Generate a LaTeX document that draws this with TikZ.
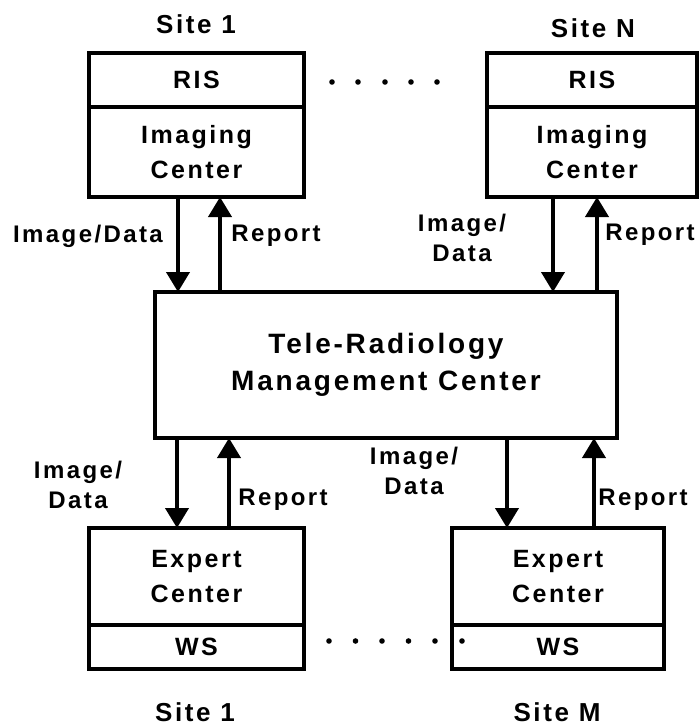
\documentclass[tikz,border=0pt]{standalone}
\usepackage{fontspec}
\usepackage{tikz}
\usetikzlibrary{arrows.meta, positioning}
\newfontfamily\diagfont[LetterSpace=10]{Liberation Sans}

\begin{document}
\begin{tikzpicture}[x=0.5pt, y=-0.5pt,
      font=\diagfont\bfseries\fontsize{12}{15}\selectfont,
      bx/.style={draw, line width=2pt, inner sep=0pt, outer sep=0pt, align=center,
                 font=\diagfont\bfseries\fontsize{12.5}{17.5}\selectfont},
      arr/.style={line width=2pt, -{Triangle[length=10pt, width=11.5pt]}},
      lbl/.style={align=center, inner sep=0pt},
      site/.style={inner sep=0pt, font=\diagfont\bfseries\fontsize{13}{16}\selectfont}]
      \useasboundingbox (0,0) rectangle (699,725);

      % sending sites
      \node[bx, minimum width=107.5pt, minimum height=27pt] (ris1) at (196.5,80) {RIS};
      \node[bx, minimum width=107.5pt, minimum height=45pt, below=0pt of ris1] (ic1) {Imaging\\Center};
      \node[bx, minimum width=105pt, minimum height=27pt] (risN) at (592,80) {RIS};
      \node[bx, minimum width=105pt, minimum height=45pt, below=0pt of risN] (icN) {Imaging\\Center};
      \node[site] (s1) at (196,24) {Site 1};
      \node[site] (sN) at (593,28) {Site N};
      \foreach \x in {332,358,385,411,437} \fill (\x,82) circle (1.4pt);

      % central node
      \node[bx, minimum width=231pt, minimum height=73pt,
            font=\diagfont\bfseries\fontsize{14}{18.5}\selectfont] (rmc) at (386,365)
            {Tele-Radiology\\Management Center};

      % expert sites
      \node[bx, minimum width=107.5pt, minimum height=48.5pt] (ec1) at (196.5,576.5) {Expert\\Center};
      \node[bx, minimum width=107.5pt, minimum height=22pt, below=0pt of ec1] (ws1) {WS};
      \node[bx, minimum width=106pt, minimum height=48.5pt] (ecM) at (558,576.5) {Expert\\Center};
      \node[bx, minimum width=106pt, minimum height=22pt, below=0pt of ecM] (wsM) {WS};
      \node[site] (b1) at (195,712) {Site 1};
      \node[site] (bM) at (557,712) {Site M};
      \foreach \x in {329,355.5,382,408.5,435,462} \fill (\x,641) circle (1.4pt);

      % links up top
      \coordinate (u1) at (178,0);  \coordinate (v1) at (220,0);
      \coordinate (u2) at (553,0);  \coordinate (v2) at (597,0);
      \draw[arr] (ic1.south -| u1) -- (rmc.north -| u1);
      \draw[arr] (rmc.north -| v1) -- (ic1.south -| v1);
      \draw[arr] (icN.south -| u2) -- (rmc.north -| u2);
      \draw[arr] (rmc.north -| v2) -- (icN.south -| v2);
      \node[lbl] (t1) at (88,236) {Image/Data};
      \node[lbl] (t2) at (276,236) {Report};
      \node[lbl] (t3) at (462,238) {Image/\\Data};
      \node[lbl] (t4) at (650,235) {Report};

      % links below
      \coordinate (u3) at (177,0);  \coordinate (v3) at (229,0);
      \coordinate (u4) at (507,0);  \coordinate (v4) at (594,0);
      \draw[arr] (rmc.south -| u3) -- (ec1.north -| u3);
      \draw[arr] (ec1.north -| v3) -- (rmc.south -| v3);
      \draw[arr] (rmc.south -| u4) -- (ecM.north -| u4);
      \draw[arr] (ecM.north -| v4) -- (rmc.south -| v4);
      \node[lbl] (t5) at (78,485) {Image/\\Data};
      \node[lbl] (t6) at (283,500) {Report};
      \node[lbl] (t7) at (414,471) {Image/\\Data};
      \node[lbl] (t8) at (643,500) {Report};
\end{tikzpicture}
\end{document}
